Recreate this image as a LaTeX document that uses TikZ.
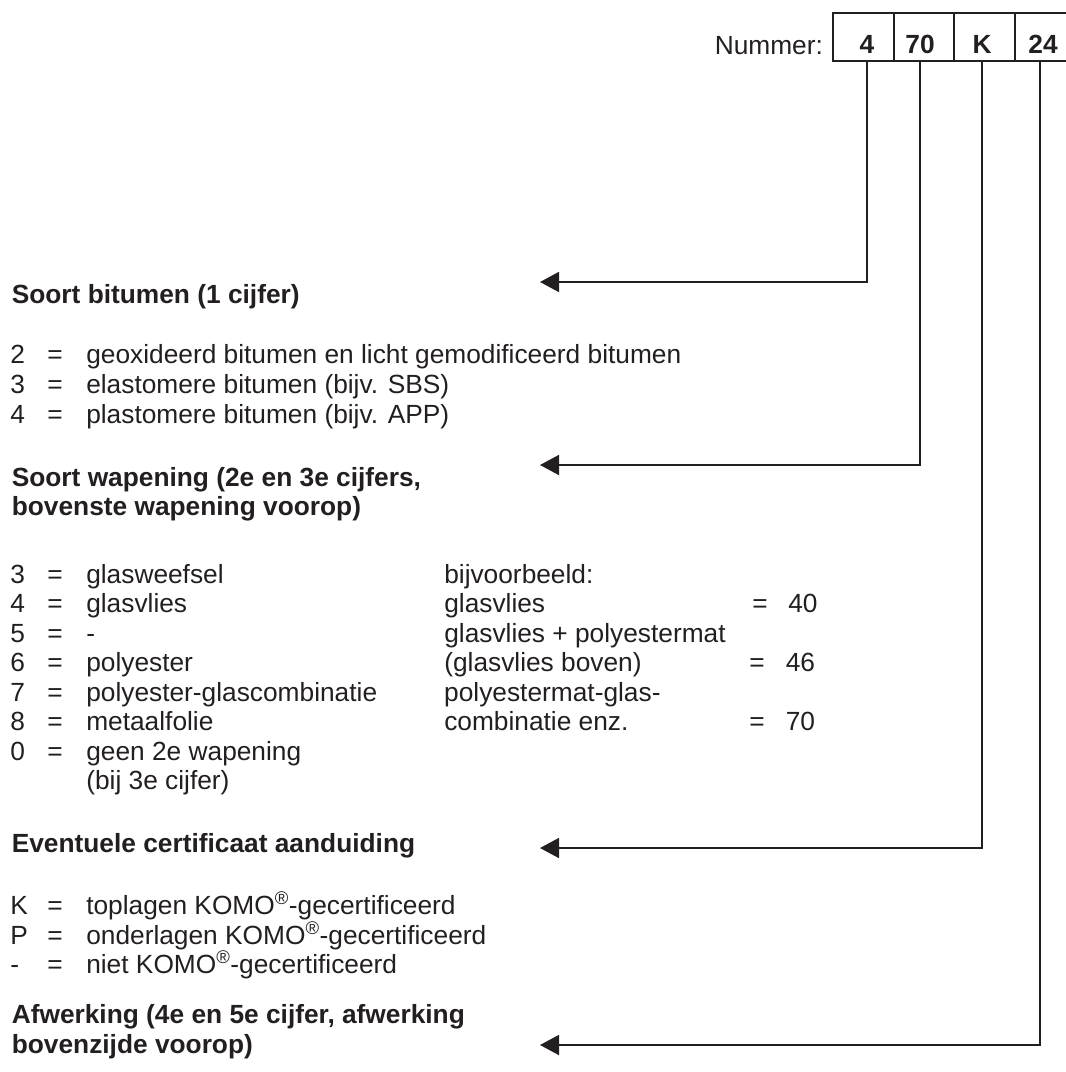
\documentclass[tikz,border=0pt]{standalone}
\usepackage{fontspec}
\setmainfont{Liberation Sans}
\usetikzlibrary{arrows.meta}
\definecolor{cink}{HTML}{231F20}
\newcommand{\regel}[3]{\makebox[37pt][l]{#1}\makebox[39pt][l]{#2}#3}
\newcommand{\reg}{\textsuperscript{®}}
\tikzset{
  every picture/.style={x=1pt, y=-1pt, line width=1.6pt},
  txt/.style={anchor=base west, inner sep=0pt, text=cink, font=\fontsize{26.3}{30}\selectfont},
  ttl/.style={txt, font=\fontsize{26.3}{30}\selectfont\bfseries},
  digit/.style={anchor=base, inner sep=0pt, text=cink, font=\fontsize{26.3}{30}\selectfont\bfseries},
  cell/.style={draw=cink, line width=1.8pt, minimum width=#1, minimum height=48pt, inner sep=0pt},
  arrow/.style={-{Triangle[length=19pt, width=20pt]}, draw=cink, line width=1.6pt},
}
\begin{document}
\begin{tikzpicture}
  \useasboundingbox (0,0) rectangle (1066,1072);
  \node[txt] (nr) at (714,54) {Nummer:};
  \node[cell=61pt] (c4) at (863.5,36.7) {};
  \node[cell=60pt] (c70) at (924,36.7) {};
  \node[cell=61pt] (cK) at (984.5,36.7) {};
  \node[cell=61pt] (c24) at (1045.5,36.7) {};
  \node[digit] (n4) at (867,53) {4};
  \node[digit] (n70) at (920,53) {70};
  \node[digit] (nK) at (982,53) {K};
  \node[digit] (n24) at (1043,53) {24};

  \node[ttl] (bit) at (11,303) {Soort bitumen (1 cijfer)};
  \node[txt] (b2) at (9.5,363) {\regel{2}{=}{geoxideerd bitumen en licht gemodificeerd bitumen}};
  \node[txt] (b3) at (9.5,393) {\regel{3}{=}{elastomere bitumen (bijv. SBS)}};
  \node[txt] (b4) at (9.5,423) {\regel{4}{=}{plastomere bitumen (bijv. APP)}};

  \node[ttl] (wap) at (11,486) {Soort wapening (2e en 3e cijfers,};
  \node[ttl] (wap2) at (11,515) {bovenste wapening voorop)};
  \node[txt] (w3) at (9.5,583) {\makebox[434pt][l]{\regel{3}{=}{glasweefsel}}bijvoorbeeld:};
  \node[txt] (w4) at (9.5,612.5) {\makebox[434pt][l]{\regel{4}{=}{glasvlies}}\makebox[308pt][l]{glasvlies}\makebox[36pt][l]{=}40};
  \node[txt] (w5) at (9.5,642) {\makebox[434pt][l]{\regel{5}{=}{-}}glasvlies + polyestermat};
  \node[txt] (w6) at (9.5,671.5) {\makebox[434pt][l]{\regel{6}{=}{polyester}}\makebox[305pt][l]{(glasvlies boven)}\makebox[36.5pt][l]{=}46};
  \node[txt] (w7) at (9.5,701) {\makebox[434pt][l]{\regel{7}{=}{polyester-glascombinatie}}polyestermat-glas-};
  \node[txt] (w8) at (9.5,730.5) {\makebox[434pt][l]{\regel{8}{=}{metaalfolie}}\makebox[305pt][l]{combinatie enz.}\makebox[36.5pt][l]{=}70};
  \node[txt] (w0) at (9.5,760) {\regel{0}{=}{geen 2e wapening}};
  \node[txt] (w0b) at (85.5,789.5) {(bij 3e cijfer)};

  \node[ttl] (cert) at (11,852) {Eventuele certificaat aanduiding};
  \node[txt] (cK1) at (9.5,914) {\regel{K}{=}{toplagen KOMO\reg-gecertificeerd}};
  \node[txt] (cP) at (9.5,944) {\regel{P}{=}{onderlagen KOMO\reg-gecertificeerd}};
  \node[txt] (cN) at (9.5,973) {\regel{-}{=}{niet KOMO\reg-gecertificeerd}};

  \node[ttl] (afw) at (11,1023) {Afwerking (4e en 5e cijfer, afwerking};
  \node[ttl] (afw2) at (11,1053) {bovenzijde voorop)};

  \coordinate (a1) at (540,282);
  \coordinate (a2) at (540,465);
  \coordinate (a3) at (540,848);
  \coordinate (a4) at (540,1045);
  \draw[arrow] (n4 |- c4.south) |- (a1);
  \draw[arrow] (n70 |- c70.south) |- (a2);
  \draw[arrow] (nK |- cK.south) |- (a3);
  \draw[arrow] ([xshift=-3pt]n24 |- c24.south) |- (a4);
\end{tikzpicture}
\end{document}
